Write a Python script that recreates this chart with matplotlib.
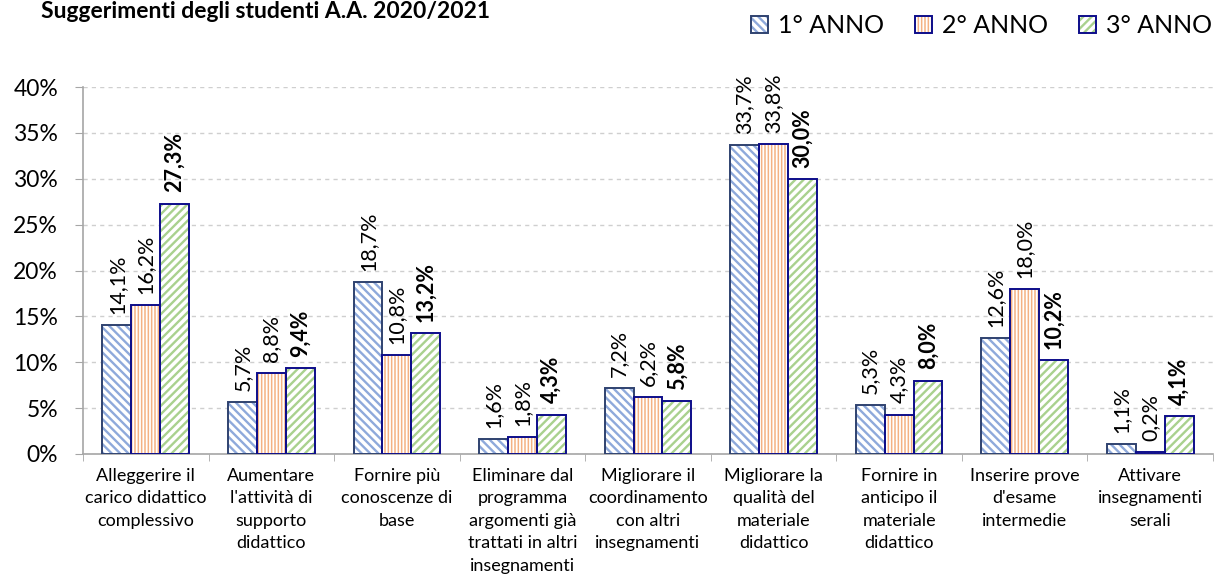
import matplotlib
matplotlib.use("Agg")
import matplotlib.pyplot as plt
from matplotlib.patches import Rectangle
from matplotlib.legend_handler import HandlerBase
import numpy as np

plt.rcParams['font.family'] = ['Lato', 'DejaVu Sans']

title = "Suggerimenti degli studenti A.A. 2020/2021"
categories = [
    "Alleggerire il\ncarico didattico\ncomplessivo",
    "Aumentare\nl'attività di\nsupporto\ndidattico",
    "Fornire più\nconoscenze di\nbase",
    "Eliminare dal\nprogramma\nargomenti già\ntrattati in altri\ninsegnamenti",
    "Migliorare il\ncoordinamento\ncon altri\ninsegnamenti",
    "Migliorare la\nqualità del\nmateriale\ndidattico",
    "Fornire in\nanticipo il\nmateriale\ndidattico",
    "Inserire prove\nd'esame\nintermedie",
    "Attivare\ninsegnamenti\nserali",
]
series_names = ["1° ANNO", "2° ANNO", "3° ANNO"]
anno1 = [14.1, 5.7, 18.7, 1.6, 7.2, 33.7, 5.3, 12.6, 1.1]
anno2 = [16.2, 8.8, 10.8, 1.8, 6.2, 33.8, 4.3, 18.0, 0.2]
anno3 = [27.3, 9.4, 13.2, 4.3, 5.8, 30.0, 8.0, 10.2, 4.1]
yticks = [0, 5, 10, 15, 20, 25, 30, 35, 40]

series = [anno1, anno2, anno3]
hatches = ['\\\\\\\\', '|||||', '////']
hatch_lw = [1.7, 1.1, 1.7]
hatch_colors = ['#8EA9DB', '#F4B183', '#A9D18E']
edge_colors = ['#2F4270', '#0D0D8A', '#0D0D8A']
bold = [False, False, True]

W, H = 1216, 580
fig = plt.figure(figsize=(W / 100, H / 100), dpi=100)
ax = fig.add_axes([83 / W, 1 - 454 / H, (1213 - 83) / W, (454 - 87) / H])

x = np.arange(len(categories))
bw = 0.23
for k, vals in enumerate(series):
    pos = x + (k - 1) * bw
    with plt.rc_context({'hatch.linewidth': hatch_lw[k]}):
        bars = ax.bar(pos, vals, bw, color='white', edgecolor=hatch_colors[k],
                      hatch=hatches[k], linewidth=0, zorder=3)
        for b in bars:
            if hasattr(b, 'set_hatch_linewidth'):
                b.set_hatch_linewidth(hatch_lw[k])
    ax.bar(pos, vals, bw, fill=False, edgecolor=edge_colors[k],
           linewidth=1.4, zorder=4)
    for px, v in zip(pos, vals):
        ax.annotate(f"{v:.1f}%".replace('.', ','), (px, v), xytext=(0, 8),
                    textcoords='offset points', rotation=90, ha='center',
                    va='bottom', fontsize=15.5,
                    fontweight='bold' if bold[k] else 'normal', zorder=5)

ax.set_xlim(-0.5, len(categories) - 0.5)
ax.set_ylim(0, 40)
ax.set_yticks(yticks)
ax.set_yticklabels([f"{t}%" for t in yticks], fontsize=16.5)
ax.set_xticks(x)
ax.set_xticklabels(categories, fontsize=13, linespacing=1.5)
ax.set_xticks(np.arange(len(categories) + 1) - 0.5, minor=True)
ax.tick_params(axis='x', which='major', length=0, pad=10)
ax.tick_params(axis='x', which='minor', length=5, color='#A6A6A6', direction='out')
ax.tick_params(axis='y', length=6, color='#A6A6A6', pad=12)
ax.yaxis.grid(True, color='#CFCFCF', linestyle=(0, (3, 3)), linewidth=1, zorder=0)
ax.set_axisbelow(True)
for s in ['top', 'right']:
    ax.spines[s].set_visible(False)
for s in ['left', 'bottom']:
    ax.spines[s].set_color('#A6A6A6')
    ax.spines[s].set_linewidth(1.2)

fig.text(41 / W, 1 - 18 / H, title, fontsize=16.5, fontweight='bold',
         ha='left', va='baseline')


class LegendKey:
    def __init__(self, hatch, hc, ec, hlw):
        self.hatch, self.hc, self.ec, self.hlw = hatch, hc, ec, hlw


class KeyHandler(HandlerBase):
    def create_artists(self, legend, orig, xdescent, ydescent, width, height,
                       fontsize, trans):
        side = min(width, height)
        x0 = -xdescent + (width - side) / 2
        y0 = -ydescent + (height - side) / 2
        with plt.rc_context({'hatch.linewidth': orig.hlw}):
            r1 = Rectangle((x0, y0), side, side,
                           facecolor='white', edgecolor=orig.hc,
                           hatch=orig.hatch, linewidth=0, transform=trans)
        if hasattr(r1, 'set_hatch_linewidth'):
            r1.set_hatch_linewidth(orig.hlw)
        r2 = Rectangle((x0, y0), side, side, fill=False,
                       edgecolor=orig.ec, linewidth=1.4, transform=trans)
        return [r1, r2]


keys = [LegendKey(hatches[k], hatch_colors[k], edge_colors[k], hatch_lw[k])
        for k in range(3)]
fig.legend(keys, series_names, handler_map={LegendKey: KeyHandler()},
           loc='center right', bbox_to_anchor=(1212 / W, 1 - 25 / H),
           ncol=3, frameon=False, fontsize=18, handlelength=0.68,
           handleheight=1.0, handletextpad=0.4, columnspacing=1.25,
           borderpad=0, borderaxespad=0)

fig.savefig('out.png', dpi=100)
